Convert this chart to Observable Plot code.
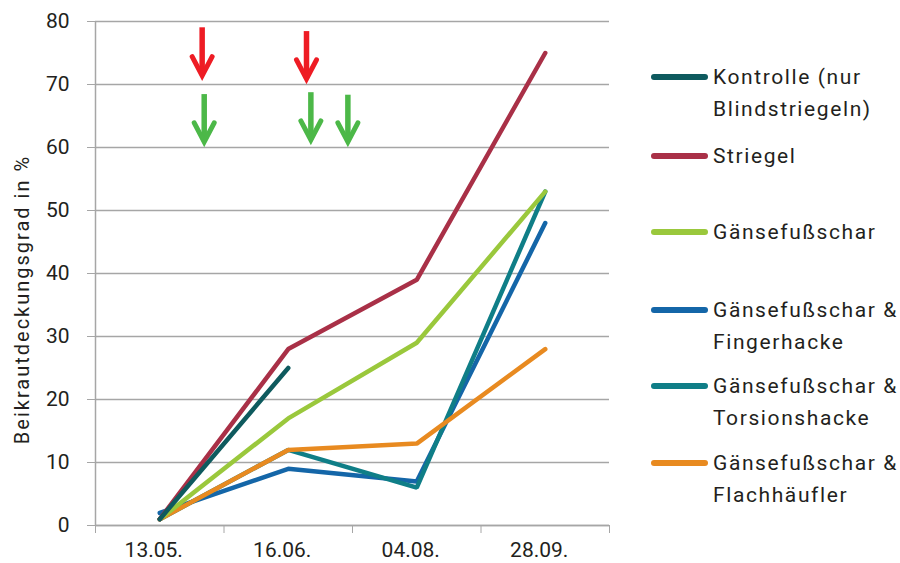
<!DOCTYPE html>
<html>
<head>
<meta charset="utf-8">
<script src="https://cdn.jsdelivr.net/npm/d3@7"></script>
<script src="https://cdn.jsdelivr.net/npm/@observablehq/plot@0.6"></script>
<style>
  html, body { margin: 0; padding: 0; background: #fff; }
  #wrap { position: relative; width: 900px; height: 563px; font-family: Roboto, "DejaVu Sans", sans-serif; color: #231f20; }
  #legend { position: absolute; left: 0; top: 0; }
  .entry { position: absolute; left: 651px; font-size: 21px; line-height: 32px; letter-spacing: 1.6px; }
  .sw { position: absolute; left: 0; top: 13px; width: 57px; height: 6px; border-radius: 3px; }
  .lbl { position: absolute; left: 62px; top: 0; white-space: nowrap; }
  .ylab text { letter-spacing: 2px; }
</style>
</head>
<body>
<div id="wrap"><div id="legend"></div></div>
<script>
// ---- data ----
const dates = ["13.05.", "16.06.", "04.08.", "28.09."];
const yTicks = [0, 10, 20, 30, 40, 50, 60, 70, 80];
const seriesNames = [
  "Kontrolle (nur Blindstriegeln)",
  "Striegel",
  "Gänsefußschar",
  "Gänsefußschar & Fingerhacke",
  "Gänsefußschar & Torsionshacke",
  "Gänsefußschar & Flachhäufler"
];
const legendLines = [
  ["Kontrolle (nur", "Blindstriegeln)"],
  ["Striegel"],
  ["Gänsefußschar"],
  ["Gänsefußschar &", "Fingerhacke"],
  ["Gänsefußschar &", "Torsionshacke"],
  ["Gänsefußschar &", "Flachhäufler"]
];
const colors = ["#0e5a5e", "#a93047", "#9ac83c", "#1466a8", "#0f7e87", "#e88a20"];
const kontrolle = [1, 25];
const striegel = [1, 28, 39, 75];
const gaensefuss = [1, 17, 29, 53];
const fingerhacke = [2, 9, 7, 48];
const torsionshacke = [1, 12, 6, 53];
const flachhaeufler = [1, 12, 13, 28];
// treatment arrows: x position between dates (index units), shaft top y1 and head vertex y2 in %
const redArrows = [
  {x: 0.33, y1: 79.0, y2: 71.4},
  {x: 1.142, y1: 78.4, y2: 70.9}
];
const greenArrows = [
  {x: 0.346, y1: 68.4, y2: 60.9},
  {x: 1.176, y1: 68.7, y2: 61.2},
  {x: 1.464, y1: 68.3, y2: 60.9}
];

// ---- build table ----
const valueLists = [kontrolle, striegel, gaensefuss, fingerhacke, torsionshacke, flachhaeufler];
const rows = [];
valueLists.forEach((vals, s) => vals.forEach((v, i) => rows.push({series: seriesNames[s], i, v})));
const drawOrder = [3, 4, 5, 2, 1, 0];

// V-shaped arrow head symbol (apex at the anchor point, opening upward)
const arrowHead = {
  draw(context, size) {
    const r = Math.sqrt(size / Math.PI);
    context.moveTo(-r, -1.9 * r);
    context.lineTo(0, 0);
    context.lineTo(r, -1.9 * r);
  }
};
function arrowMarks(data, color) {
  return [
    Plot.ruleX(data, {x: "x", y1: "y1", y2: "y2", stroke: color, strokeWidth: 5.5, strokeLinecap: "butt"}),
    Plot.dot(data, {x: "x", y: "y2", symbol: arrowHead, r: 10, fill: "none", stroke: color, strokeWidth: 5, strokeLinecap: "round", strokeLinejoin: "miter"})
  ];
}

const grid = "#a6a6a6";
const chart = Plot.plot({
  width: 900,
  height: 563,
  marginLeft: 95,
  marginRight: 291,
  marginTop: 21,
  marginBottom: 38,
  style: {fontFamily: "Roboto, 'DejaVu Sans', sans-serif", color: "#231f20", background: "transparent"},
  x: {domain: [-0.5, 3.5]},
  y: {domain: [0, 80]},
  color: {domain: seriesNames, range: colors},
  marks: [
    Plot.gridY(yTicks, {stroke: grid, strokeOpacity: 1, strokeWidth: 1.3}),
    Plot.ruleX([-0.5], {stroke: grid, strokeWidth: 1.5}),
    Plot.ruleY([0], {stroke: grid, strokeWidth: 1.5}),
    Plot.axisY({ticks: yTicks, tickSize: 8, tickPadding: 18, stroke: grid, fontSize: 21, label: null}),
    Plot.axisX({ticks: [-0.5, 0.5, 1.5, 2.5, 3.5], tickSize: 8, tickFormat: () => "", stroke: grid, label: null}),
    Plot.axisX({ticks: [0, 1, 2, 3], tickSize: 0, tickPadding: 17, tickFormat: i => dates[i], fontSize: 21, dx: -6, label: null}),
    Plot.text(["Beikrautdeckungsgrad in %"], {frameAnchor: "left", textAnchor: "middle", rotate: -90, dx: -73, dy: 26, fontSize: 20, fill: "#231f20", className: "ylab"}),
    ...drawOrder.map(s => Plot.line(rows.filter(d => d.series === seriesNames[s]), {
      x: "i", y: "v", stroke: "series", strokeWidth: 4.5, strokeLinecap: "round", strokeLinejoin: "miter"
    })),
    ...arrowMarks(redArrows, "#ee1c24"),
    ...arrowMarks(greenArrows, "#4cb848")
  ]
});
document.getElementById("wrap").insertBefore(chart, document.getElementById("legend"));

// ---- legend ----
const legendTops = [77, 156, 232, 310, 386, 463];
const legend = document.getElementById("legend");
legendLines.forEach((lines, k) => {
  const e = document.createElement("div");
  e.className = "entry";
  e.style.top = (legendTops[k] - 16) + "px";
  const sw = document.createElement("div");
  sw.className = "sw";
  sw.style.background = colors[k];
  const lb = document.createElement("div");
  lb.className = "lbl";
  lb.innerHTML = lines.join("<br>");
  e.appendChild(sw); e.appendChild(lb);
  legend.appendChild(e);
});
</script>
</body>
</html>
